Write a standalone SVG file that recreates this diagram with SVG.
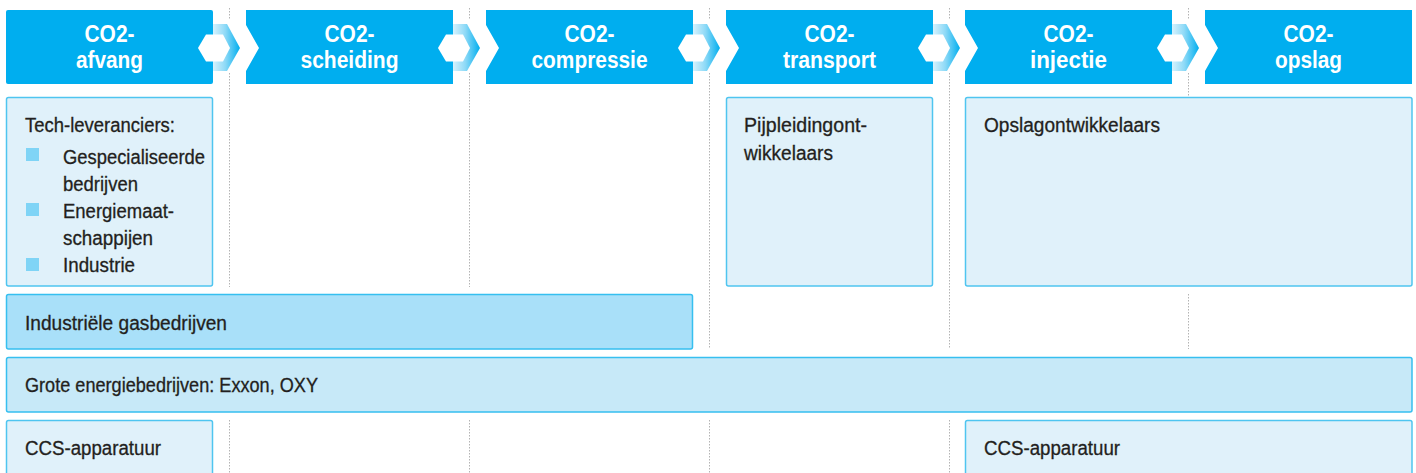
<svg xmlns="http://www.w3.org/2000/svg" width="1416" height="473" viewBox="0 0 1416 473">
<defs>
<linearGradient id="cg" x1="0" y1="0" x2="1" y2="0">
<stop offset="0" stop-color="#d6f2fd"/>
<stop offset="0.45" stop-color="#8fdaf7"/>
<stop offset="1" stop-color="#00aeef"/>
</linearGradient>
<style>
.hdr{fill:#00aeef}
.ht{font-family:"Liberation Sans",Arial,sans-serif;font-weight:bold;font-size:23px;fill:#ffffff;text-anchor:middle}
.bt{font-family:"Liberation Sans",Arial,sans-serif;font-size:20px;fill:#231f20;stroke:#231f20;stroke-width:0.3}
.lb{fill:#e0f1fa;stroke:#4fc5f0;stroke-width:1.5}
.mb{fill:#a9e0f9;stroke:#36bff0;stroke-width:1.5}
.gb{fill:#c7e9f8;stroke:#36bff0;stroke-width:1.5}
.bul{fill:#7fd4f6}
.dot{stroke:#b3b3b3;stroke-width:1;stroke-dasharray:1.5 1.5;fill:none}
.chev{fill:url(#cg)}
.hex{fill:#ffffff}
</style>
</defs>
<rect width="1416" height="473" fill="#ffffff"/>
<g id="gridlines">
<path class="dot" d="M229.5 8V20M229.5 73V287M229.5 420V473"/>
<path class="dot" d="M469.5 8V20M469.5 73V287M469.5 420V473"/>
<path class="dot" d="M709.5 8V20M709.5 73V349M709.5 420V473"/>
<path class="dot" d="M949.5 8V20M949.5 73V349M949.5 420V473"/>
<path class="dot" d="M1188.5 8V20M1188.5 73V97M1188.5 294V349"/>
</g>
<g id="step-afvang">
<rect class="hdr" x="6" y="10" width="207" height="74" rx="2"/>
<text class="ht" x="109.5" y="42" textLength="50" lengthAdjust="spacingAndGlyphs">CO2-</text>
<text class="ht" x="109.5" y="68" textLength="67" lengthAdjust="spacingAndGlyphs">afvang</text>
</g>
<g id="step-scheiding">
<path class="hdr" d="M246 10H453V84H246V71L259 48L246 25Z"/>
<text class="ht" x="349.5" y="42" textLength="50" lengthAdjust="spacingAndGlyphs">CO2-</text>
<text class="ht" x="349.5" y="68" textLength="98" lengthAdjust="spacingAndGlyphs">scheiding</text>
</g>
<g id="step-compressie">
<path class="hdr" d="M486 10H693V84H486V71L499 48L486 25Z"/>
<text class="ht" x="589.5" y="42" textLength="50" lengthAdjust="spacingAndGlyphs">CO2-</text>
<text class="ht" x="589.5" y="68" textLength="116" lengthAdjust="spacingAndGlyphs">compressie</text>
</g>
<g id="step-transport">
<path class="hdr" d="M726 10H933V84H726V71L739 48L726 25Z"/>
<text class="ht" x="829.5" y="42" textLength="50" lengthAdjust="spacingAndGlyphs">CO2-</text>
<text class="ht" x="829.5" y="68" textLength="93" lengthAdjust="spacingAndGlyphs">transport</text>
</g>
<g id="step-injectie">
<path class="hdr" d="M965 10H1172V84H965V71L978 48L965 25Z"/>
<text class="ht" x="1068.5" y="42" textLength="50" lengthAdjust="spacingAndGlyphs">CO2-</text>
<text class="ht" x="1068.5" y="68" textLength="77" lengthAdjust="spacingAndGlyphs">injectie</text>
</g>
<g id="step-opslag">
<path class="hdr" d="M1205 10H1412V84H1205V71L1218 48L1205 25Z"/>
<text class="ht" x="1308.5" y="42" textLength="50" lengthAdjust="spacingAndGlyphs">CO2-</text>
<text class="ht" x="1308.5" y="68" textLength="67" lengthAdjust="spacingAndGlyphs">opslag</text>
</g>
<g id="connectors">
<g transform="translate(213,0)"><path class="chev" d="M0 24H14L27 48L14 71H0Z"/><path class="hex" d="M-15 48L-7 34.5H10L17 48L10 61.5H-7Z"/></g>
<g transform="translate(453,0)"><path class="chev" d="M0 24H14L27 48L14 71H0Z"/><path class="hex" d="M-15 48L-7 34.5H10L17 48L10 61.5H-7Z"/></g>
<g transform="translate(693,0)"><path class="chev" d="M0 24H14L27 48L14 71H0Z"/><path class="hex" d="M-15 48L-7 34.5H10L17 48L10 61.5H-7Z"/></g>
<g transform="translate(933,0)"><path class="chev" d="M0 24H14L27 48L14 71H0Z"/><path class="hex" d="M-15 48L-7 34.5H10L17 48L10 61.5H-7Z"/></g>
<g transform="translate(1172,0)"><path class="chev" d="M0 24H14L27 48L14 71H0Z"/><path class="hex" d="M-15 48L-7 34.5H10L17 48L10 61.5H-7Z"/></g>
</g>
<g id="tech-leveranciers">
<rect class="lb" x="6.5" y="97.5" width="206" height="188.5" rx="2"/>
<text class="bt" x="25" y="132" textLength="150" lengthAdjust="spacingAndGlyphs">Tech-leveranciers:</text>
<rect class="bul" x="26" y="148" width="13" height="13"/>
<text class="bt" x="63" y="164" textLength="142" lengthAdjust="spacingAndGlyphs">Gespecialiseerde</text>
<text class="bt" x="63" y="190.5" textLength="75" lengthAdjust="spacingAndGlyphs">bedrijven</text>
<rect class="bul" x="26" y="203" width="13" height="13"/>
<text class="bt" x="63" y="218" textLength="111" lengthAdjust="spacingAndGlyphs">Energiemaat-</text>
<text class="bt" x="63" y="244.5" textLength="90" lengthAdjust="spacingAndGlyphs">schappijen</text>
<rect class="bul" x="26" y="258" width="13" height="13"/>
<text class="bt" x="63" y="272" textLength="72" lengthAdjust="spacingAndGlyphs">Industrie</text>
</g>
<g id="pijpleidingontwikkelaars">
<rect class="lb" x="726.5" y="97.5" width="206" height="188.5" rx="2"/>
<text class="bt" x="744" y="132" textLength="123" lengthAdjust="spacingAndGlyphs">Pijpleidingont-</text>
<text class="bt" x="744" y="160" textLength="89" lengthAdjust="spacingAndGlyphs">wikkelaars</text>
</g>
<g id="opslagontwikkelaars">
<rect class="lb" x="965.5" y="97.5" width="446.5" height="188.5" rx="2"/>
<text class="bt" x="984" y="132" textLength="176" lengthAdjust="spacingAndGlyphs">Opslagontwikkelaars</text>
</g>
<g id="industriele-gasbedrijven">
<rect class="mb" x="6.5" y="294.5" width="686" height="54.5" rx="2"/>
<text class="bt" x="25" y="330" textLength="202" lengthAdjust="spacingAndGlyphs">Industriële gasbedrijven</text>
</g>
<g id="grote-energiebedrijven">
<rect class="gb" x="6.5" y="357.5" width="1405.5" height="54.5" rx="2"/>
<text class="bt" x="25" y="392" textLength="293" lengthAdjust="spacingAndGlyphs">Grote energiebedrijven: Exxon, OXY</text>
</g>
<g id="ccs-apparatuur-1">
<rect class="lb" x="6.5" y="420.5" width="206" height="60" rx="2"/>
<text class="bt" x="25" y="455" textLength="136" lengthAdjust="spacingAndGlyphs">CCS-apparatuur</text>
</g>
<g id="ccs-apparatuur-2">
<rect class="lb" x="965.5" y="420.5" width="446.5" height="60" rx="2"/>
<text class="bt" x="984" y="455" textLength="136" lengthAdjust="spacingAndGlyphs">CCS-apparatuur</text>
</g>
</svg>
